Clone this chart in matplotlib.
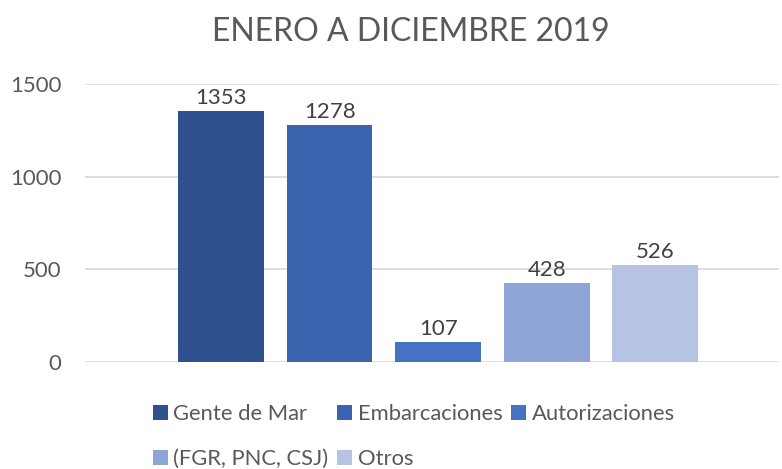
import matplotlib.pyplot as plt
from matplotlib.patches import Patch

plt.rcParams['font.family'] = ['Lato', 'DejaVu Sans']

# Data
series = ["Gente de Mar", "Embarcaciones", "Autorizaciones", "(FGR, PNC, CSJ)", "Otros"]
values = [1353, 1278, 107, 428, 526]
colors = ["#2F528F", "#3A64AD", "#4472C4", "#8FA5D7", "#B7C3E3"]
yticks = [0, 500, 1000, 1500]

fig = plt.figure(figsize=(7.82, 4.69), dpi=100)
ax = fig.add_axes([0.1087, 0.2281, 0.888, 0.5928])

positions = list(range(len(values)))
bars = ax.bar(positions, values, width=0.79, color=colors, zorder=3)
for b, v in zip(bars, values):
    ax.annotate(str(v), (b.get_x() + b.get_width() / 2, v), xytext=(0, 2),
                textcoords="offset points", ha="center", va="bottom",
                fontsize=16, color="#404040")

ax.set_ylim(0, 1500)
ax.set_xlim(-1.252, 5.142)
ax.set_yticks(yticks)
ax.set_yticklabels([str(t) for t in yticks], fontsize=16, color="#595959")
ax.set_xticks([])
ax.tick_params(axis="y", length=0, pad=17)
ax.grid(axis="y", color="#D9D9D9", linewidth=1.2, zorder=0)
for s in ax.spines.values():
    s.set_visible(False)

fig.text(0.525, 0.932, "ENERO A DICIEMBRE 2019", ha="center", va="center",
         fontsize=23, color="#595959")

handles = [Patch(facecolor=c, label=l) for c, l in zip(colors, series)]
order = [0, 3, 1, 4, 2]
leg = fig.legend([handles[i] for i in order], [series[i] for i in order],
                 ncol=3, loc="center left", bbox_to_anchor=(0.1957, 0.0693),
                 frameon=False, fontsize=15.8, handlelength=0.68, handleheight=0.68,
                 handletextpad=0.25, columnspacing=0.4, labelspacing=1.15,
                 borderaxespad=0, borderpad=0)
for t in leg.get_texts():
    t.set_color("#595959")

fig.savefig("out.png", dpi=100)
